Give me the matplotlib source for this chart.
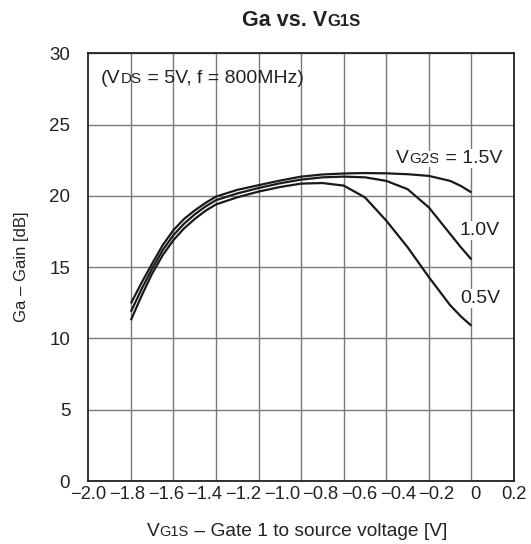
import numpy as np
import matplotlib
matplotlib.use("Agg")
import matplotlib.pyplot as plt
from matplotlib.transforms import IdentityTransform

plt.rcParams['font.family'] = ['Liberation Sans', 'DejaVu Sans']

# ---- data ----
vg1s = [-1.78, -1.725, -1.67, -1.615, -1.56, -1.505, -1.45, -1.395, -1.34, -1.23,
        -1.12, -1.01, -0.90, -0.79, -0.68, -0.57, -0.46, -0.35, -0.24, -0.13,
        -0.075, -0.02]
ga_15 = [12.45, 13.9, 15.25, 16.55, 17.6, 18.38, 18.98, 19.5, 19.95, 20.42,
         20.75, 21.07, 21.35, 21.5, 21.57, 21.6, 21.58, 21.52, 21.4, 21.05,
         20.7, 20.24]
ga_10 = [11.87, 13.45, 14.9, 16.2, 17.25, 18.05, 18.7, 19.25, 19.7, 20.17,
         20.55, 20.88, 21.14, 21.3, 21.35, 21.3, 21.05, 20.47, 19.19, 17.33,
         16.4, 15.54]
ga_05 = [11.28, 12.98, 14.55, 15.85, 16.9, 17.72, 18.38, 18.95, 19.4, 19.9,
         20.3, 20.62, 20.86, 20.9, 20.72, 19.89, 18.26, 16.4, 14.3, 12.33,
         11.55, 10.89]
series = [ga_15, ga_10, ga_05]

xtick_vals = [-2.0, -1.8, -1.6, -1.4, -1.2, -1.0, -0.8, -0.6, -0.4, -0.2, 0.0, 0.2]
xtick_labels = ["\u22122.0", "\u22121.8", "\u22121.6", "\u22121.4", "\u22121.2", "\u22121.0",
                "\u22120.8", "\u22120.6", "\u22120.4", "\u22120.2", "0", "0.2"]
ytick_vals = [0, 5, 10, 15, 20, 25, 30]

W, H = 531, 544
fig = plt.figure(figsize=(W / 100, H / 100), dpi=100)
L, R, T, B = 88.3, 514.0, 53.3, 481.0
ax = fig.add_axes([L / W, 1 - B / H, (R - L) / W, (B - T) / H])

ax.set_xlim(-2.0, 0.2)
ax.set_ylim(0, 30)

# gridlines: 10 equal divisions (as in the reference)
ax.set_xticks(np.linspace(-2.0, 0.2, 11)[1:-1], minor=True)
ax.set_xticks(xtick_vals)
ax.set_xticklabels(xtick_labels)
ax.set_yticks(ytick_vals)
ax.set_yticklabels([str(v) for v in ytick_vals])
ax.grid(which='minor', axis='x', color='#7a7a7a', lw=1.0)
ax.grid(which='major', axis='y', color='#7a7a7a', lw=1.0)
ax.grid(which='major', axis='x', visible=False)
ax.tick_params(which='both', length=0)
ax.tick_params(axis='x', labelsize=13.2, pad=3.5, colors='#222222')
ax.tick_params(axis='y', labelsize=13.5, pad=13, colors='#222222')
for s in ax.spines.values():
    s.set_color('#222222')
    s.set_linewidth(1.3)

for ys in series:
    ax.plot(vg1s, ys, color='#1a1a1a', lw=1.6, solid_capstyle='butt',
            solid_joinstyle='round', zorder=3)

fig.canvas.draw()
renderer = fig.canvas.get_renderer()
px = IdentityTransform()


def rich(x, y, pieces, ha='left', bbox=None, zorder=4):
    """pieces: list of (text, size, weight); x,y in image pixels (y from top), baseline."""
    texts = []
    widths = []
    for s, size, weight in pieces:
        t = fig.text(0, 0, s, fontsize=size, fontweight=weight, color='#222222',
                     ha='left', va='baseline', transform=px, zorder=zorder)
        if bbox is not None:
            t.set_bbox(bbox)
        texts.append(t)
        widths.append(t.get_window_extent(renderer).width)
    total = sum(widths)
    x0 = x - (total / 2 if ha == 'center' else (total if ha == 'right' else 0))
    cur = x0
    for t, w in zip(texts, widths):
        t.set_transform(px)
        t.set_position((cur, H - y))
        cur += w
    return texts


# title
rich(301, 26, [("Ga vs. V", 15.5, 'bold'), ("G1S", 12, 'bold')], ha='center')
# condition note
rich(101, 83, [("(V", 14, 'normal'), ("DS", 11, 'normal'), (" = 5V, f = 800MHz)", 14, 'normal')])
# curve labels
wb = dict(facecolor='white', edgecolor='none', pad=1.0)
rich(502, 163, [("V", 14, 'normal'), ("G2S", 11, 'normal'), (" = 1.5V", 14, 'normal')],
     ha='right', bbox=wb)
rich(500, 235, [("1.0V", 14, 'normal')], ha='right', bbox=wb)
rich(500, 303, [("0.5V", 14, 'normal')], ha='right', bbox=wb)
# x label
rich(297, 536, [("V", 13.8, 'normal'), ("G1S", 10.5, 'normal'),
                (" \u2013 Gate 1 to source voltage [V]", 13.8, 'normal')], ha='center')
# y label
fig.text(22 / W, 1 - 267 / H, "Ga \u2013 Gain [dB]", rotation=90, fontsize=12,
         color='#222222', ha='center', va='center')

fig.savefig("out.png", dpi=100)
